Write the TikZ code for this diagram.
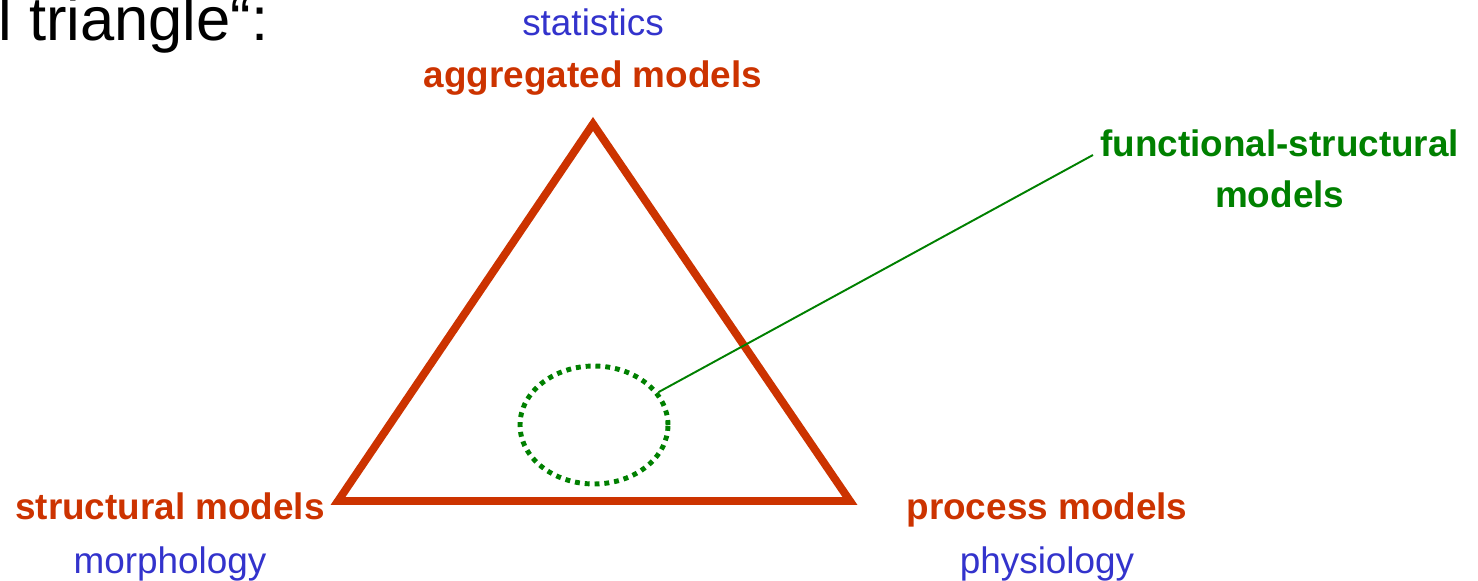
\documentclass[tikz,border=0pt]{standalone}
\usepackage{fontspec}
\setmainfont{Liberation Sans}
\usetikzlibrary{shapes.geometric}
\definecolor{modelred}{HTML}{CC3300}
\definecolor{fieldblue}{HTML}{3333CC}
\definecolor{fsgreen}{HTML}{008000}

\begin{document}
\begin{tikzpicture}[x=0.02cm,y=-0.02cm,
    model/.style={font=\fontsize{21}{29}\selectfont\bfseries,text=modelred,anchor=base,inner sep=0pt},
    field/.style={font=\fontsize{21}{29}\selectfont,text=fieldblue,anchor=base,inner sep=0pt}]
  \useasboundingbox (0,0) rectangle (1478,581);
  \node[anchor=base west,inner sep=0pt,font=\fontsize{35}{42}\selectfont] (title) at (-2,41) {l triangle“:};
  % corners of the triangle
  \coordinate (agg) at (593,124);
  \coordinate (str) at (338,501);
  \coordinate (pro) at (850,501);
  \draw[modelred,line width=4.5pt,line join=miter] (agg) -- (str) -- (pro) -- cycle;
  \node[field] (stat) at (593,36) {statistics};
  \node[model] (aggl) at (593,88) {aggregated models};
  \node[model] (strl) at (170,519) {structural models};
  \node[field] (morph) at (170,573) {morphology};
  \node[model] (prol) at (1047,519) {process models};
  \node[field] (phys) at (1047,573) {physiology};
  \node[model,text=fsgreen,align=center,anchor=north west] (fsm) at (1100,129) {functional-structural\\models};
  \node[draw=fsgreen,ellipse,line width=2.8pt,dash pattern=on 2.8pt off 2.8pt,
        inner sep=0pt,minimum width=2.96cm,minimum height=2.36cm] (fsz) at (594,425) {};
  \coordinate (fsend) at (1093,155);
  \draw[fsgreen,line width=1.1pt] (fsz.27) -- (fsend);
\end{tikzpicture}
\end{document}
